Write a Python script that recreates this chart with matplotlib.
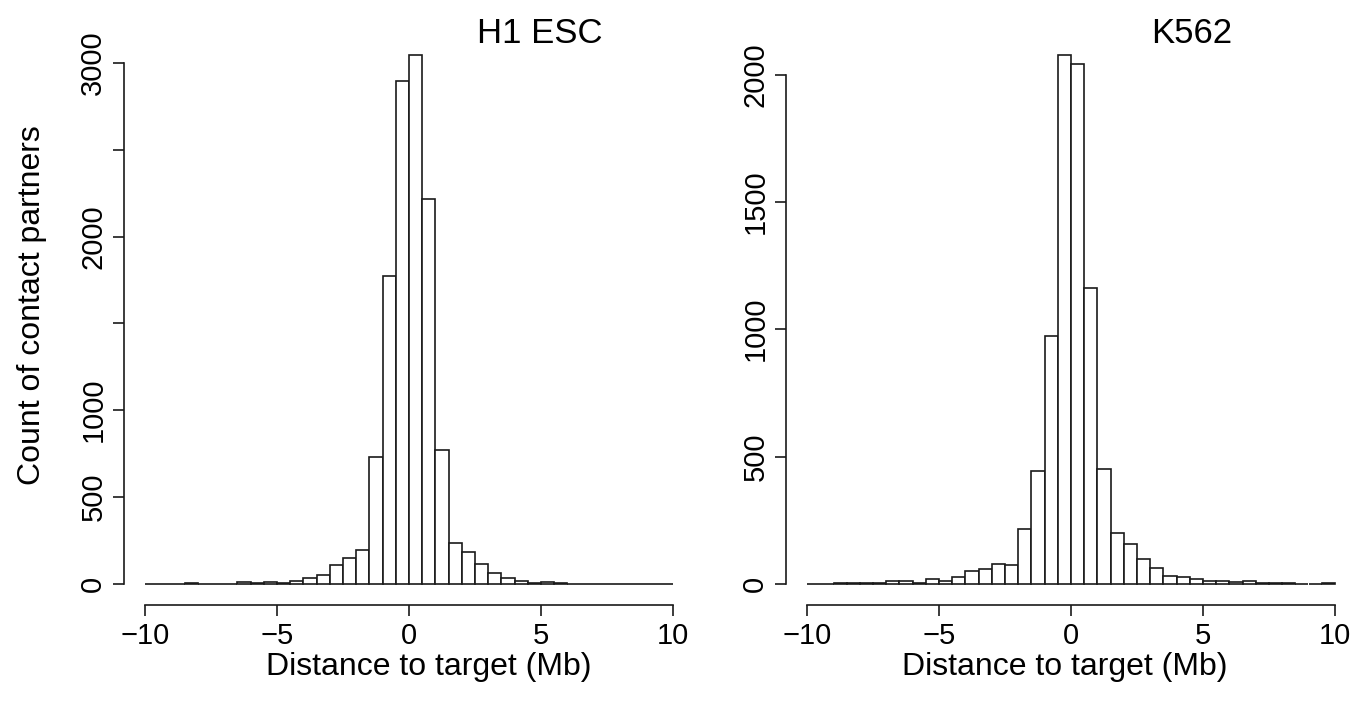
import numpy as np
import matplotlib
matplotlib.use("Agg")
import matplotlib.pyplot as plt

plt.rcParams["font.family"] = ["Liberation Sans", "DejaVu Sans"]

# bin edges (Mb), bin width 0.5 from -10 to 10
edges = np.arange(-10, 10.001, 0.5)

# counts per bin
h1_counts = [1, 1, 1, 4, 2, 1, 2, 8, 5, 8,
             6, 17, 31, 50, 108, 150, 196, 733, 1773, 2895,
             3045, 2217, 773, 235, 183, 113, 63, 36, 15, 6,
             8, 5, 2, 1, 1, 1, 2, 2, 1, 1]
k562_counts = [1, 1, 3, 2, 2, 4, 10, 10, 5, 18,
               11, 27, 50, 58, 77, 75, 215, 445, 975, 2076,
               2040, 1160, 450, 198, 155, 98, 61, 30, 26, 19,
               12, 12, 7, 11, 5, 3, 3, 1, 1, 2]

h1_yticks = [0, 500, 1000, 1500, 2000, 2500, 3000]
h1_ylabels = ["0", "500", "1000", "", "2000", "", "3000"]
k562_yticks = [0, 500, 1000, 1500, 2000]
k562_ylabels = ["0", "500", "1000", "1500", "2000"]
xticks = [-10, -5, 0, 5, 10]

fig = plt.figure(figsize=(13.58, 7.08), dpi=100)
W, H = 1358, 708

def make_ax(left_px, right_px, counts, yt, yl, title, tx, ylab, xl_shift):
    ax = fig.add_axes([left_px / W, (H - 605) / H, (right_px - left_px) / W, 571 / H])
    ax.bar(edges[:-1], counts, width=0.5, align="edge", facecolor="white",
           edgecolor="#1a1a1a", linewidth=1.2)
    top = max(counts)
    ax.set_xlim(-10.8, 10.8)
    ax.set_ylim(-0.04 * top, 1.04 * top)
    for s in ["top", "right"]:
        ax.spines[s].set_visible(False)
    ax.spines["left"].set_bounds(yt[0], yt[-1])
    ax.spines["bottom"].set_bounds(-10, 10)
    for s in ["left", "bottom"]:
        ax.spines[s].set_linewidth(1.2)
        ax.spines[s].set_color("#1a1a1a")
    ax.set_xticks(xticks)
    ax.set_xticklabels([str(v).replace("-", "\u2212") for v in xticks])
    ax.set_yticks(yt)
    ax.set_yticklabels(yl, rotation=90, va="center")
    ax.tick_params(length=8, width=1.2, color="#1a1a1a", labelsize=21, pad=4)
    ax.set_xlabel("Distance to target (Mb)", fontsize=23, labelpad=2)
    ax.xaxis.label.set_x(0.5 + xl_shift / (right_px - left_px))
    if ylab:
        ax.set_ylabel(ylab, fontsize=23, labelpad=23)
        ax.yaxis.label.set_y(0.5 + 14 / 571)
    ax.text(tx, 0.985, title, transform=ax.transAxes, fontsize=25,
            ha="center", va="baseline")
    return ax

make_ax(124, 694, h1_counts, h1_yticks, h1_ylabels, "H1 ESC", 0.73,
        "Count of contact partners", 20)
make_ax(786, 1356, k562_counts, k562_yticks, k562_ylabels, "K562", 0.712, None, -6)

fig.savefig("out.png", dpi=100)
